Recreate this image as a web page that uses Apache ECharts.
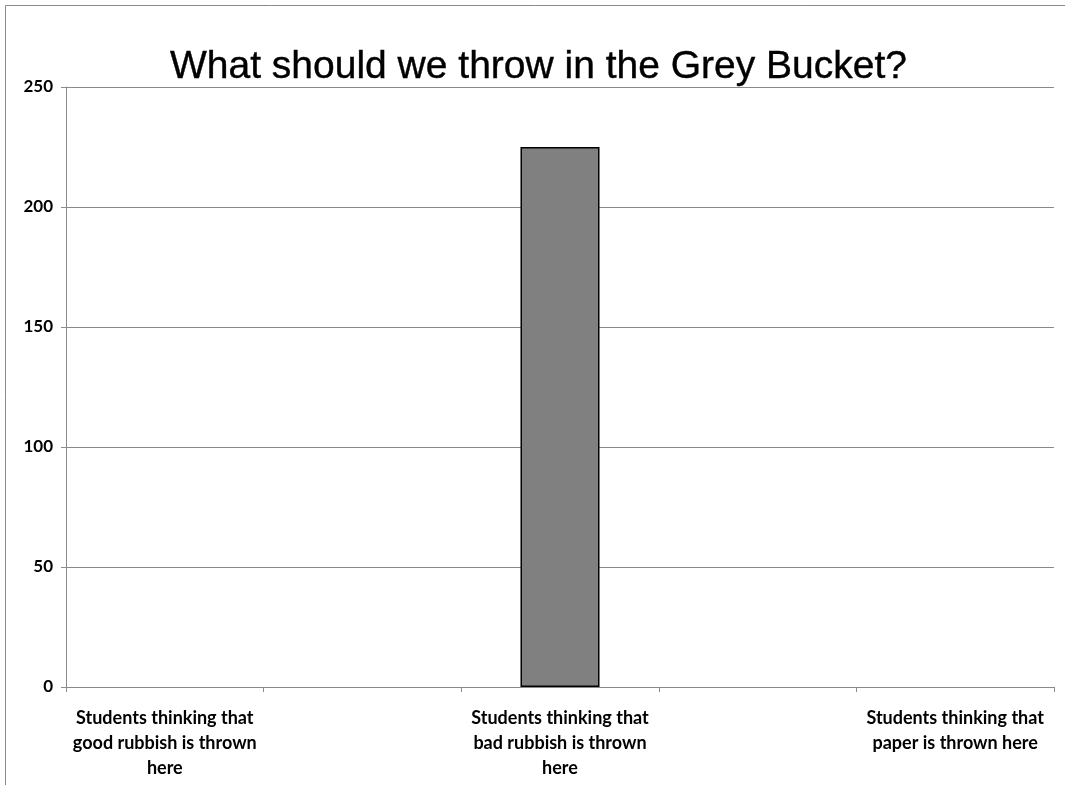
<!DOCTYPE html>
<html><head><meta charset="utf-8">
<script src="https://cdn.jsdelivr.net/npm/echarts@6/dist/echarts.min.js"></script>
<style>html,body{margin:0;padding:0;background:#fff}#c{width:1065px;height:785px}</style>
</head><body><div id="c"></div>
<script>
const titleText = 'What should we throw in the Grey Bucket?';
const categories = [
  'Students thinking that\ngood rubbish is thrown\nhere',
  '',
  'Students thinking that\nbad rubbish is thrown\nhere',
  '',
  'Students thinking that\npaper is thrown here'
];
const values = [0, null, 225, null, 0];
const yTicks = { min: 0, max: 250, interval: 50 };

const seriesData = values.map(v => v === 0 ? { value: 0, itemStyle: { borderWidth: 0 } } : v);

const chart = echarts.init(document.getElementById('c'));
chart.setOption({
  animation: false,
  backgroundColor: '#fff',
  graphic: [{ type: 'rect', shape: { x: 5.5, y: 5.5, width: 1200, height: 1000 }, style: { fill: 'none', stroke: '#8a8a8a', lineWidth: 1 }, silent: true }],
  title: {
    text: titleText, left: 165, top: 43,
    textStyle: { fontFamily: 'Liberation Sans', fontSize: 39, fontWeight: 'normal', color: '#000', textBorderColor: '#000', textBorderWidth: 0.4 }
  },
  grid: { left: 66, right: 11, top: 87, bottom: 98, containLabel: false },
  xAxis: {
    type: 'category', data: categories,
    axisLine: { lineStyle: { color: '#8a8a8a', width: 1 } },
    axisTick: { show: true, alignWithLabel: false, length: 5, lineStyle: { color: '#8a8a8a' } },
    axisLabel: { interval: 0, margin: 19, fontFamily: 'Lato', fontWeight: 'bold', fontSize: 18, lineHeight: 25, color: '#000' }
  },
  yAxis: {
    type: 'value', min: yTicks.min, max: yTicks.max, interval: yTicks.interval,
    axisLine: { show: true, lineStyle: { color: '#8a8a8a', width: 1 } },
    axisTick: { show: true, length: 5, lineStyle: { color: '#8a8a8a' } },
    splitLine: { lineStyle: { color: '#8a8a8a', width: 1 } },
    axisLabel: { margin: 13, fontFamily: 'Lato', fontWeight: 'bold', fontSize: 17, color: '#000' }
  },
  series: [{
    type: 'bar', data: seriesData, barWidth: '40%',
    itemStyle: { color: '#808080', borderColor: '#000', borderWidth: 1.5 }
  }]
});
</script></body></html>
